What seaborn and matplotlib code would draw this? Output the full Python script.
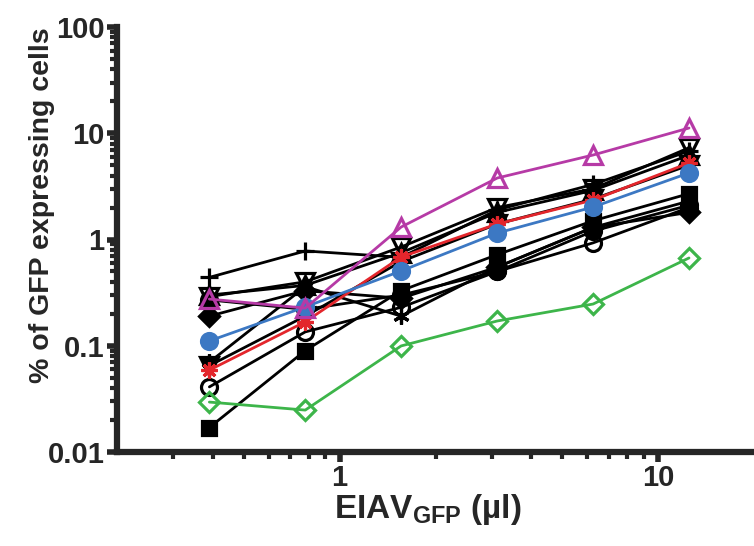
import numpy as np
import pandas as pd
import seaborn as sns
import matplotlib.pyplot as plt
from matplotlib.ticker import FixedLocator, NullFormatter

# virus dose (ul)
dose = [0.39, 0.78, 1.56, 3.125, 6.25, 12.5]

# % GFP+ cells, one list per donor / line
plus_black = [0.44, 0.78, 0.68, 1.9, 3.3, 6.8]
tri_up_black = [0.30, 0.37, 0.75, 1.8, 2.9, 6.2]
tri_down_black = [0.29, 0.40, 0.85, 2.0, 3.0, 7.3]
diamond_black = [0.19, 0.33, 0.28, 0.55, 1.3, 1.8]
square_black = [0.017, 0.09, 0.33, 0.72, 1.5, 2.7]
circle_open_black = [0.041, 0.135, 0.23, 0.50, 0.93, 2.0]
star_black = [0.07, 0.36, 0.19, 0.55, 1.3, 2.3]
tri_down_filled = [0.065, 0.19, 0.62, 1.4, 2.4, 5.0]
circle_filled_black = [0.27, 0.22, 0.30, 0.50, 1.2, 2.1]
magenta_tri = [0.275, 0.226, 1.31, 3.79, 6.24, 11.2]
green_diamond = [0.0295, 0.0248, 0.0996, 0.171, 0.247, 0.67]
blue_circle = [0.111, 0.232, 0.506, 1.15, 2.02, 4.23]
red_star = [0.059, 0.168, 0.684, 1.40, 2.35, 5.25]

series = [
    # values, colour, marker, filled
    (plus_black, "black", "+", True),
    (tri_up_black, "black", "^", False),
    (tri_down_black, "black", "v", False),
    (diamond_black, "black", "D", True),
    (square_black, "black", "s", True),
    (circle_open_black, "black", "o", False),
    (star_black, "black", (6, 2, 0), True),
    (tri_down_filled, "black", "v", True),
    (circle_filled_black, "black", "o", True),
    (green_diamond, "#3DB54A", "D", False),
    (red_star, "#E3262C", (8, 2, 0), True),
    (blue_circle, "#3C78C3", "o", True),
    (magenta_tri, "#B63AA6", "^", False),
]

sns.set_theme(style="ticks")
plt.rcParams["font.family"] = ["Liberation Sans", "DejaVu Sans"]
plt.rcParams["font.weight"] = "bold"
plt.rcParams["mathtext.fontset"] = "custom"
plt.rcParams["mathtext.bf"] = "Liberation Sans:bold"
plt.rcParams["mathtext.rm"] = "Liberation Sans:bold"

fig = plt.figure(figsize=(7.54, 5.46), dpi=100)
ax = fig.add_axes([117 / 754, 1 - 452 / 546, 637 / 754, 425 / 546])

for vals, col, mk, filled in series:
    df = pd.DataFrame({"dose": dose, "pct": vals})
    size = 11.5
    if mk in ("s", "D"):
        size = 10
    if mk in ("^", "v"):
        size = 13
    if mk == "+":
        size = 13
    sns.lineplot(data=df, x="dose", y="pct", ax=ax, color=col, lw=2,
                 marker=mk, markersize=size, mew=2.3,
                 mfc=col if filled else "none", mec=col)

ax.set_xscale("log")
ax.set_yscale("log")
ax.set_xlim(0.2, 20)
ax.set_ylim(0.01, 100)

ax.xaxis.set_major_locator(FixedLocator([1, 10]))
ax.set_xticklabels(["1", "10"])
ax.xaxis.set_minor_locator(FixedLocator([0.3, 0.4, 0.5, 0.6, 0.7, 0.8, 0.9,
                                         2, 3, 4, 5, 6, 7, 8, 9]))
ax.xaxis.set_minor_formatter(NullFormatter())
ax.yaxis.set_major_locator(FixedLocator([0.01, 0.1, 1, 10, 100]))
ax.set_yticklabels(["0.01", "0.1", "1", "10", "100"])
yminor = [m * 10.0 ** e for e in range(-2, 2) for m in range(2, 10)]
ax.yaxis.set_minor_locator(FixedLocator(yminor))
ax.yaxis.set_minor_formatter(NullFormatter())

sns.despine(ax=ax)
for s in ("left", "bottom"):
    ax.spines[s].set_linewidth(4.5)
    ax.spines[s].set_capstyle("projecting")
ax.tick_params(which="major", length=7, width=4, labelsize=21, pad=2)
ax.tick_params(which="minor", length=5, width=3)
for lab in ax.get_xticklabels() + ax.get_yticklabels():
    lab.set_fontweight("bold")

ax.set_ylabel("% of GFP expressing cells", fontsize=20.5, fontweight="bold")
ax.set_xlabel(r"$\mathbf{EIAV_{GFP}}$ (µl)", fontsize=24, fontweight="bold", labelpad=0)
ax.yaxis.set_label_coords(-0.097, 0.58)
ax.xaxis.set_label_coords(0.488, -0.095)

fig.savefig("out.png", dpi=100)
